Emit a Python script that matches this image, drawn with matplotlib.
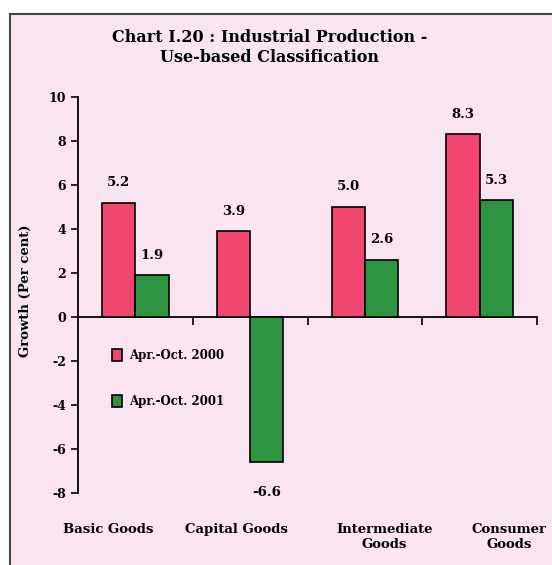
import matplotlib.pyplot as plt
import numpy as np
from matplotlib.patches import Rectangle

# data
categories = ['Basic Goods', 'Capital Goods', 'Intermediate\nGoods', 'Consumer\nGoods']
growth_2000 = [5.2, 3.9, 5.0, 8.3]
growth_2001 = [1.9, -6.6, 2.6, 5.3]
series_names = ['Apr.-Oct. 2000', 'Apr.-Oct. 2001']
label_shift = [-0.24, -0.12, 0.17, 0.26]   # category text is off-centre in the original

pink = '#f0466f'
green = '#2e9442'
bg = '#fbe4f2'
font = {'family': 'DejaVu Serif', 'weight': 'bold'}
plt.rcParams['axes.unicode_minus'] = False

fig = plt.figure(figsize=(5.52, 5.65), dpi=100)
fig.patch.set_facecolor('white')

# framed pink panel
fig.patches.append(Rectangle((10/552, -0.05), 1.1, 1 - 14/565 + 0.05, transform=fig.transFigure,
                             facecolor=bg, edgecolor='#444444', linewidth=1.5, zorder=-10))

ax = fig.add_axes([78/552, 1 - 493/565, 459/552, 396/565])
ax.set_facecolor('none')

x = np.arange(len(categories))
w = 0.29
b1 = ax.bar(x - w/2, growth_2000, w, color=pink, edgecolor='black', linewidth=1.2, label=series_names[0], zorder=3)
b2 = ax.bar(x + w/2, growth_2001, w, color=green, edgecolor='black', linewidth=1.2, label=series_names[1], zorder=3)

for bars, vals in ((b1, growth_2000), (b2, growth_2001)):
    for r, v in zip(bars, vals):
        off = 14.5 if v >= 0 else -21.5
        ax.annotate(f'{v:.1f}', (r.get_x() + r.get_width()/2, v), xytext=(0, off),
                    textcoords='offset points', ha='center', va='center', fontsize=9.5, **font)

ax.set_xlim(-0.5, 3.5)
ax.set_ylim(-8, 10)
ax.set_yticks(np.arange(-8, 11, 2))
ax.spines['top'].set_visible(False)
ax.spines['right'].set_visible(False)
ax.spines['bottom'].set_position(('data', 0))
ax.spines['left'].set_linewidth(1.3)
ax.spines['bottom'].set_linewidth(1.3)
ax.set_xticks([0.5, 1.5, 2.5, 3.5])
ax.set_xticklabels([])
ax.tick_params(axis='x', direction='out', length=6, width=1.2)
ax.tick_params(axis='y', direction='out', length=5, width=1.2, labelsize=9)
for t in ax.get_yticklabels():
    t.set_family('DejaVu Serif')
    t.set_weight('bold')

for i, c in enumerate(categories):
    ax.text(i + label_shift[i], -9.35, c, ha='center', va='top', fontsize=9.5, linespacing=1.25, **font)

ax.legend(loc='upper left', bbox_to_anchor=(0.05, 0.39), frameon=False, handlelength=0.9,
          handleheight=1.2, labelspacing=2.8, handletextpad=0.6, prop={**font, 'size': 8.5})

fig.text(0.488, 1 - 37/565, 'Chart I.20 : Industrial Production -', ha='center', va='center', fontsize=11.5, **font)
fig.text(0.488, 1 - 58/565, 'Use-based Classification', ha='center', va='center', fontsize=11.5, **font)
fig.text(25/552, 1 - 291/565, 'Growth (Per cent)', rotation=90, ha='center', va='center', fontsize=9.5, **font)

fig.savefig('out.png', dpi=100)
